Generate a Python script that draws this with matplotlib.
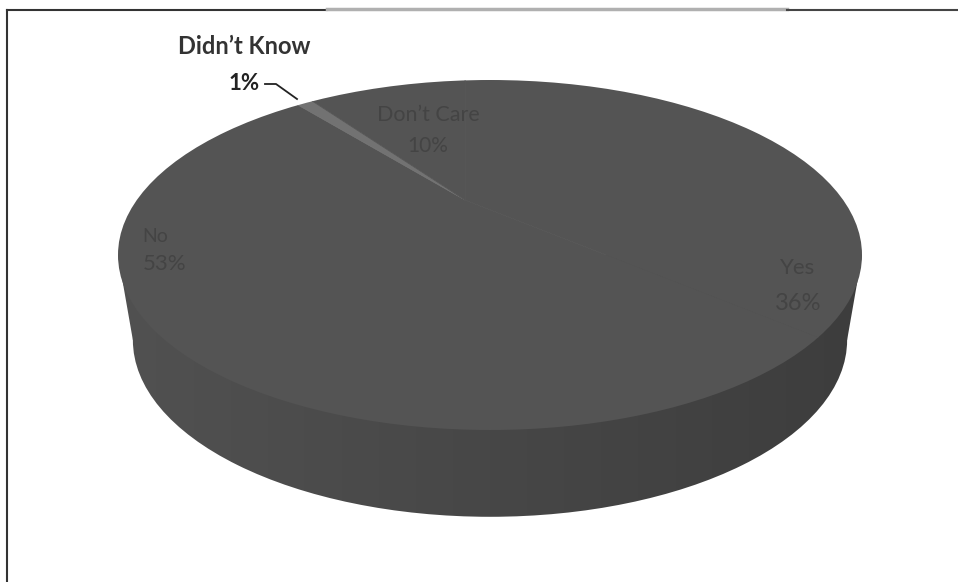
import matplotlib
matplotlib.use('Agg')
import matplotlib.pyplot as plt
import numpy as np
from matplotlib.colors import LinearSegmentedColormap
from matplotlib.patches import Ellipse, Polygon

labels = ["Yes", "No", "Didn\u2019t Know", "Don\u2019t Care"]
values = [36, 53, 1, 10]
top_colors = ['#545454', '#545454', '#727272', '#545454']

W, H = 958, 582
plt.rcParams['font.family'] = ['Lato', 'DejaVu Sans']

fig = plt.figure(figsize=(W / 100, H / 100), dpi=100, facecolor='white')

# frame and labels live in pixel coords
page = fig.add_axes([0, 0, 1, 1])
page.set_xlim(0, W)
page.set_ylim(H, 0)
page.axis('off')
page.set_zorder(3)

# disc: top ellipse centre (490, 255), rx 372, ry 175, bottom reaches y=517
cx, cy, rx, ry = 490, 255, 372, 175
depth = 87 / ry
disc = fig.add_axes([(cx - rx) / W, 1 - (cy + ry + 87) / H, 2 * rx / W, (2 * ry + 87) / H])
disc.axis('off')

# side of the disc: bottom ellipse a bit narrower (perspective), darker to the right
side_cmap = LinearSegmentedColormap.from_list('side', ['#515151', '#474747', '#3d3d3d'])
grad = np.linspace(0, 1, 256).reshape(1, -1)
low_y, low_w = -0.486, 1.92
im = disc.imshow(grad, extent=[-1, 1, -1 - depth, 0], aspect='auto', zorder=1, cmap=side_cmap)
im.set_clip_path(Ellipse((0, low_y), low_w, 2.02, transform=disc.transData))
im2 = disc.imshow(grad, extent=[-1, 1, -1 - depth, 0], aspect='auto', zorder=1, cmap=side_cmap)
im2.set_clip_path(Polygon([(-1, 0), (1, 0), (low_w / 2, low_y), (-low_w / 2, low_y)],
                          transform=disc.transData))

# top face: pie centre sits up and left of the ellipse centre, clipped to it
wedges, _ = disc.pie(values, colors=top_colors, startangle=90, counterclock=False,
                     radius=1.6, center=(-0.067, 0.314), frame=False)
disc.set_aspect('auto')
disc.set_xlim(-1, 1)
disc.set_ylim(-1 - depth, 1)
face = Ellipse((0, 0), 2, 2, transform=disc.transData)
for w in wedges:
    w.set_clip_on(True)
    w.set_clip_path(face)
    w.set_zorder(2)
    w.set_edgecolor(w.get_facecolor())
    w.set_linewidth(0.5)

# labels
page.text(244, 46, labels[2], fontsize=17, fontweight='bold', color='#333333', ha='center', va='center')
page.text(244, 84, "1%", fontsize=16, fontweight='bold', color='#222222', ha='center', va='center')
page.plot([265, 276, 297], [84, 84, 99], color='#222222', lw=1.3)
page.text(428, 115, labels[3], fontsize=15.5, color='#444444', ha='center', va='center')
page.text(428, 146, "10%", fontsize=15, color='#444444', ha='center', va='center')
page.text(155, 236, labels[1], fontsize=14, color='#444444', ha='center', va='center')
page.text(165, 264, "53%", fontsize=16, color='#444444', ha='center', va='center')
page.text(798, 268, labels[0], fontsize=16, color='#444444', ha='center', va='center')
page.text(798, 303, "36%", fontsize=17, color='#444444', ha='center', va='center')

# scanned frame
page.plot([7, 7], [H, 10], color='#333333', lw=1.5)
page.plot([7, 327], [10, 10], color='#333333', lw=1.5)
page.plot([327, 787], [9, 9], color='#b0b0b0', lw=2.5)
page.plot([787, W], [10, 10], color='#444444', lw=1.5)

fig.savefig('out.png', dpi=100)
